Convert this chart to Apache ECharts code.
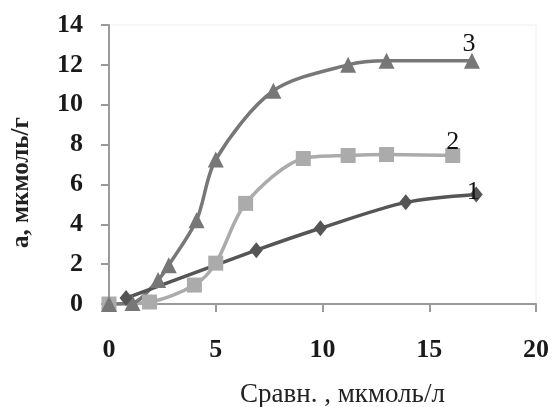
<!DOCTYPE html>
<html><head><meta charset="utf-8">
<script src="https://cdn.jsdelivr.net/npm/echarts@6/dist/echarts.min.js"></script>
<style>html,body{margin:0;padding:0;background:#fff}#c{width:553px;height:407px}</style>
</head><body><div id="c"></div>
<script>
const xTicks = [0, 5, 10, 15, 20];
const yTicks = [0, 2, 4, 6, 8, 10, 12, 14];
const s1x = [0.8, 6.9, 9.9, 13.9, 17.2];
const s1y = [0.3, 2.7, 3.8, 5.1, 5.5];
const s2x = [0, 1.9, 4.0, 5.0, 6.4, 9.1, 11.2, 13.0, 16.1];
const s2y = [0, 0.1, 0.95, 2.05, 5.05, 7.3, 7.45, 7.5, 7.45];
const s3x = [0, 1.1, 2.3, 2.8, 4.1, 5.0, 7.7, 11.2, 13.0, 17.0];
const s3y = [0, 0.05, 1.2, 1.95, 4.2, 7.25, 10.7, 12.0, 12.2, 12.2];
const names = ['1', '2', '3'];
const xTitle = 'Сравн. , мкмоль/л';
const yTitle = 'a, мкмоль/г';

const font = 'Liberation Serif';
function pairs(xs, ys, name, off) {
  return xs.map((x, i) => {
    const d = { value: [x, ys[i]] };
    if (i === xs.length - 1) d.label = { show: true, formatter: name, position: 'inside', offset: off,
      fontFamily: font, fontSize: 26, color: '#111' };
    return d;
  });
}
const chart = echarts.init(document.getElementById('c'));
chart.setOption({
  animation: false,
  grid: { left: 109, top: 25, right: 17, bottom: 103, show: true, borderColor: '#eee', borderWidth: 1 },
  graphic: [
    { type: 'text', left: 240, top: 381, style: { text: xTitle, font: '27px "Liberation Serif"', fill: '#222' } },
    { type: 'text', x: 9, y: 248, rotation: Math.PI / 2,
      style: { text: yTitle, font: 'bold 25px "Liberation Serif"', fill: '#222' } }
  ],
  xAxis: {
    type: 'value', min: xTicks[0], max: xTicks[xTicks.length - 1], interval: 5,
    axisLine: { lineStyle: { color: '#9a9a9a', width: 2 } },
    axisTick: { show: true, length: 8, lineStyle: { color: '#9a9a9a', width: 2 } },
    axisLabel: { fontFamily: font, fontSize: 26, fontWeight: 'bold', color: '#1a1a1a', margin: 33 },
    splitLine: { show: false }
  },
  yAxis: {
    type: 'value', min: yTicks[0], max: yTicks[yTicks.length - 1], interval: 2,
    axisLine: { show: true, lineStyle: { color: '#9a9a9a', width: 2 } },
    axisTick: { show: true, length: 8, lineStyle: { color: '#9a9a9a', width: 2 } },
    axisLabel: { fontFamily: font, fontSize: 26, fontWeight: 'bold', color: '#1a1a1a', margin: 26 },
    splitLine: { show: false }
  },
  series: [
    { name: names[1], type: 'line', smooth: 0.3, data: pairs(s2x, s2y, names[1], [0, -13]),
      symbol: 'rect', symbolSize: 15, lineStyle: { color: '#ababab', width: 3.5 }, itemStyle: { color: '#ababab' } },
    { name: names[2], type: 'line', smooth: 0.3, data: pairs(s3x, s3y, names[2], [-3, -17]),
      symbol: 'triangle', symbolSize: 16, lineStyle: { color: '#777', width: 3.5 }, itemStyle: { color: '#777' } },
    { name: names[0], type: 'line', smooth: 0.3, data: pairs(s1x, s1y, names[0], [-3, -2]),
      symbol: 'diamond', symbolSize: [13, 16], lineStyle: { color: '#555', width: 3.5 }, itemStyle: { color: '#555' } }
  ]
});
</script></body></html>
